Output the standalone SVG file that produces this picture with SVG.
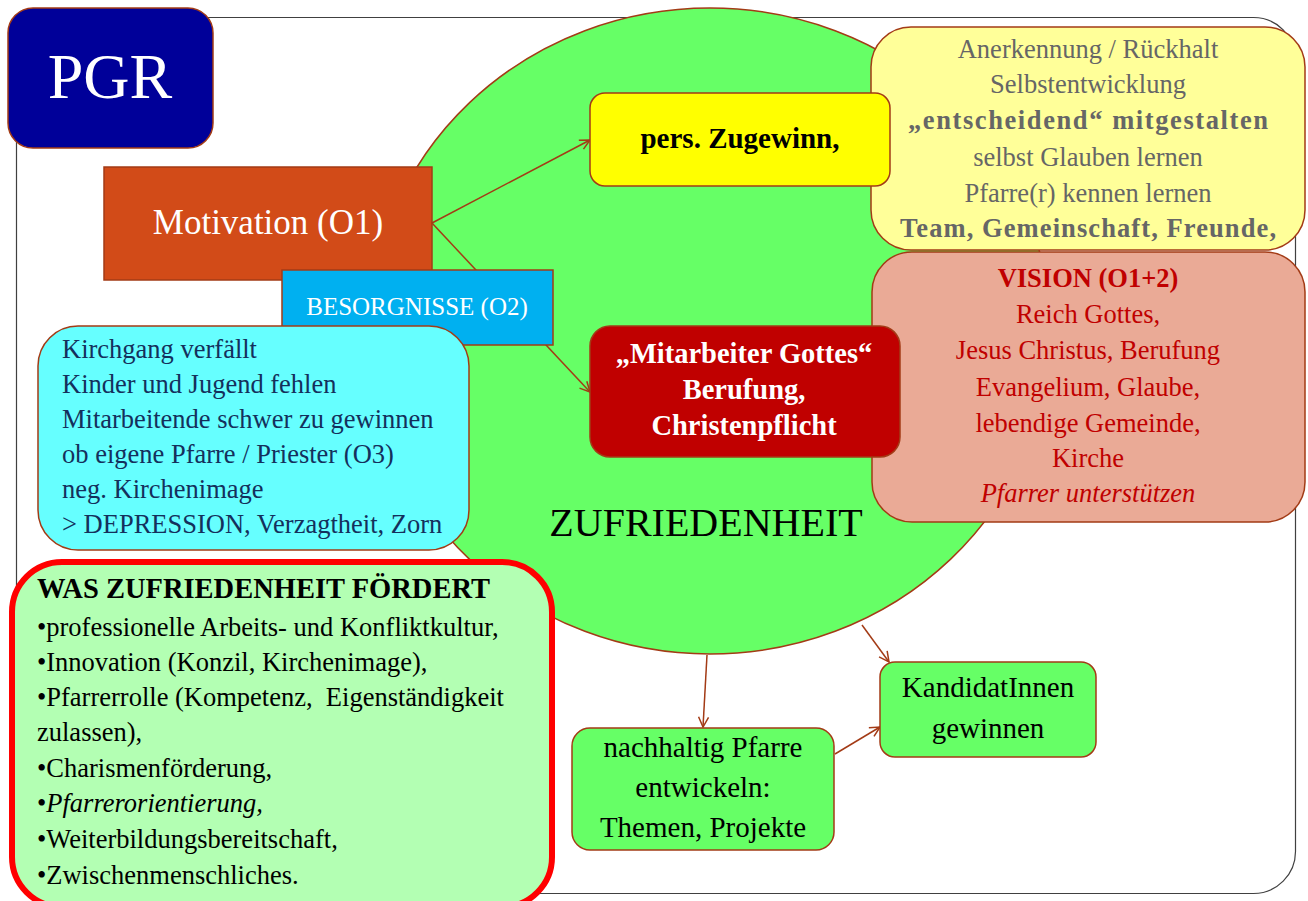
<svg xmlns="http://www.w3.org/2000/svg" width="1308" height="901" viewBox="0 0 1308 901">
<defs>
<style>
text{font-family:"Liberation Serif","DejaVu Serif",serif;}
.bx{stroke:#a33b16;stroke-width:1.5;}
.c{text-anchor:middle;}
.b{font-weight:bold;}
.conn{stroke:#a33b16;stroke-width:1.5;fill:none;marker-end:url(#arr);}
.gray{fill:#666666;font-size:26.5px;}
.vis{fill:#c00000;font-size:26.5px;}
.cy{fill:#14305c;font-size:26.5px;}
.bl{fill:#000;font-size:26.5px;}
.gr{fill:#000;font-size:29px;}
</style>
<marker id="arr" viewBox="0 0 12 12" refX="11" refY="6" markerWidth="12" markerHeight="12" orient="auto" markerUnits="userSpaceOnUse">
<path d="M1,1 L11,6 L1,11" fill="none" stroke="#a33b16" stroke-width="1.5"/>
</marker>
</defs>
<rect x="0" y="0" width="1308" height="901" fill="#ffffff"/>
<rect id="frame" x="16.5" y="17.5" width="1279" height="876" rx="42" fill="none" stroke="#404040" stroke-width="1.2"/>

<g id="zufriedenheit">
<ellipse cx="710" cy="331" rx="340" ry="323" fill="#66ff66" class="bx"/>
<text x="706" y="536" class="c" font-size="40" fill="#000">ZUFRIEDENHEIT</text>
</g>

<g id="motivation">
<rect x="104" y="167" width="328" height="113" fill="#d24b18" class="bx"/>
<text x="268" y="234" class="c" font-size="35" fill="#ffffff">Motivation (O1)</text>
</g>

<g id="connectors">
<line x1="432" y1="223" x2="590" y2="140" class="conn"/>
<line x1="432" y1="223" x2="590" y2="392" class="conn"/>
<line x1="707" y1="655" x2="703" y2="727" class="conn"/>
<line x1="862" y1="625" x2="889" y2="662" class="conn"/>
<line x1="835" y1="754" x2="880" y2="727" class="conn"/>
</g>

<g id="pgr">
<rect x="8" y="8" width="205" height="140" rx="25" fill="#000099" class="bx"/>
<text x="110" y="98" class="c" font-size="64" fill="#ffffff">PGR</text>
</g>

<g id="besorgnisse">
<rect x="282" y="270" width="271" height="75" fill="#00b0f0" class="bx"/>
<text x="417" y="315" class="c" font-size="25" fill="#ffffff">BESORGNISSE (O2)</text>
</g>

<g id="sorgen">
<rect x="38" y="326" width="431" height="224" rx="40" fill="#66ffff" class="bx"/>
<text x="62" y="358" class="cy">Kirchgang verfällt</text>
<text x="62" y="393" class="cy">Kinder und Jugend fehlen</text>
<text x="62" y="428" class="cy">Mitarbeitende schwer zu gewinnen</text>
<text x="62" y="463" class="cy">ob eigene Pfarre / Priester (O3)</text>
<text x="62" y="498" class="cy">neg. Kirchenimage</text>
<text x="62" y="533" class="cy">&gt; DEPRESSION, Verzagtheit, Zorn</text>
</g>

<g id="foerdert">
<rect x="12" y="562" width="540" height="345" rx="50" fill="#b3ffb3" stroke="#ff0000" stroke-width="6"/>
<text x="37" y="598" class="b" font-size="28.5" fill="#000">WAS ZUFRIEDENHEIT FÖRDERT</text>
<text x="37" y="636" class="bl">•professionelle Arbeits- und Konfliktkultur,</text>
<text x="37" y="671" class="bl">•Innovation (Konzil, Kirchenimage),</text>
<text x="37" y="706" class="bl">•Pfarrerrolle (Kompetenz,&#160; Eigenständigkeit</text>
<text x="37" y="741" class="bl">zulassen),</text>
<text x="37" y="777" class="bl">•Charismenförderung,</text>
<text x="37" y="812" class="bl">•<tspan font-style="italic">Pfarrerorientierung,</tspan></text>
<text x="37" y="848" class="bl">•Weiterbildungsbereitschaft,</text>
<text x="37" y="884" class="bl">•Zwischenmenschliches.</text>
</g>

<g id="gewinn-liste">
<rect x="871" y="27" width="434" height="223" rx="40" fill="#ffff99" class="bx"/>
<text x="1088" y="58" class="c gray">Anerkennung / Rückhalt</text>
<text x="1088" y="93" class="c gray">Selbstentwicklung</text>
<text x="1088" y="129" class="c gray b" font-size="27" textLength="360" lengthAdjust="spacing">„entscheidend“ mitgestalten</text>
<text x="1088" y="166" class="c gray">selbst Glauben lernen</text>
<text x="1088" y="202" class="c gray">Pfarre(r) kennen lernen</text>
<text x="1088" y="237" class="c gray b" font-size="27" textLength="376" lengthAdjust="spacing">Team, Gemeinschaft, Freunde,</text>
</g>

<g id="zugewinn">
<rect x="590" y="93" width="300" height="93" rx="15" fill="#ffff00" class="bx"/>
<text x="740" y="148" class="c b" font-size="29" fill="#000">pers. Zugewinn,</text>
</g>

<g id="vision">
<rect x="872" y="252" width="433" height="270" rx="40" fill="#eaaa96" class="bx"/>
<text x="1088" y="287" class="c vis b" font-size="27.5">VISION (O1+2)</text>
<text x="1088" y="323" class="c vis">Reich Gottes,</text>
<text x="1088" y="359" class="c vis">Jesus Christus, Berufung</text>
<text x="1088" y="396" class="c vis">Evangelium, Glaube,</text>
<text x="1088" y="432" class="c vis">lebendige Gemeinde,</text>
<text x="1088" y="467" class="c vis">Kirche</text>
<text x="1088" y="502" class="c vis" font-style="italic">Pfarrer unterstützen</text>
</g>

<g id="mitarbeiter">
<rect x="590" y="326" width="310" height="131" rx="20" fill="#c00000" class="bx"/>
<text x="744" y="363" class="c b" font-size="28.5" fill="#ffffff">„Mitarbeiter Gottes“</text>
<text x="744" y="399" class="c b" font-size="28.5" fill="#ffffff">Berufung,</text>
<text x="744" y="435" class="c b" font-size="28.5" fill="#ffffff">Christenpflicht</text>
</g>

<g id="nachhaltig">
<rect x="572" y="728" width="262" height="122" rx="18" fill="#66ff66" class="bx"/>
<text x="703" y="757" class="c gr">nachhaltig Pfarre</text>
<text x="703" y="797" class="c gr">entwickeln:</text>
<text x="703" y="837" class="c gr">Themen, Projekte</text>
</g>

<g id="kandidaten">
<rect x="880" y="662" width="216" height="95" rx="15" fill="#66ff66" class="bx"/>
<text x="988" y="697" class="c gr">KandidatInnen</text>
<text x="988" y="738" class="c gr">gewinnen</text>
</g>
</svg>
